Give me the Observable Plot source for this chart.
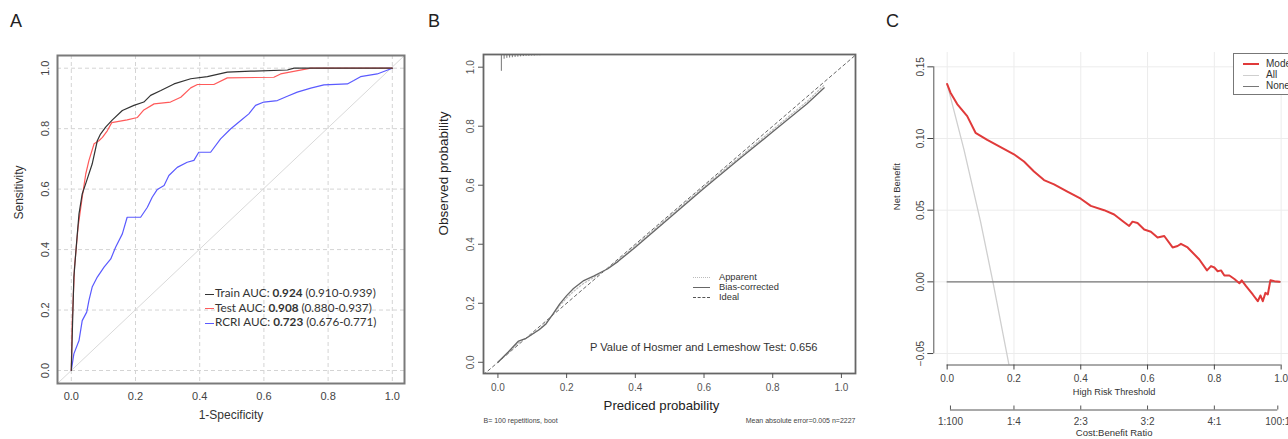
<!DOCTYPE html>
<html><head><meta charset="utf-8">
<script src="https://cdn.jsdelivr.net/npm/d3@7"></script>
<script src="https://cdn.jsdelivr.net/npm/@observablehq/plot@0.6"></script>
<style>
body{margin:0;background:#fff;}
#wrap{position:relative;width:1288px;height:439px;overflow:hidden;background:#fff;font-family:"Liberation Sans",Arial,sans-serif;}
.panel{position:absolute;top:0;}
.plab{position:absolute;font-size:18px;color:#222;line-height:18px;font-family:"Liberation Sans",Arial,sans-serif;}
.sw{display:inline-block;vertical-align:middle;border-top-width:1.5px;}
</style></head><body><div id="wrap"></div>
<script>
// ---------- Panel A: ROC ----------
const rocTicks = [0, 0.2, 0.4, 0.6, 0.8, 1.0];
const trainFpr = [0,0.003,0.008,0.017,0.024,0.034,0.048,0.065,0.081,0.091,0.107,0.128,0.159,0.195,0.226,0.247,0.279,0.320,0.372,0.424,0.486,0.559,0.673,0.694,1];
const trainTpr = [0,0.121,0.309,0.430,0.518,0.584,0.628,0.683,0.760,0.782,0.805,0.829,0.860,0.877,0.888,0.910,0.926,0.948,0.965,0.972,0.987,0.990,0.994,1.0,1];
const testFpr = [0,0.003,0.010,0.021,0.034,0.045,0.055,0.071,0.086,0.097,0.112,0.126,0.174,0.206,0.226,0.258,0.309,0.341,0.372,0.393,0.444,0.486,0.631,0.652,0.746,1];
const testTpr = [0,0.165,0.342,0.474,0.573,0.650,0.695,0.750,0.760,0.771,0.793,0.820,0.829,0.837,0.862,0.882,0.888,0.904,0.935,0.946,0.946,0.968,0.970,0.981,1.0,1];
const rcriFpr = [0,0.008,0.024,0.034,0.048,0.055,0.065,0.081,0.102,0.123,0.138,0.159,0.174,0.216,0.237,0.252,0.268,0.289,0.304,0.330,0.361,0.382,0.397,0.434,0.465,0.496,0.528,0.553,0.574,0.600,0.642,0.673,0.704,0.746,0.787,0.860,0.880,0.901,0.953,1];
const rcriTpr = [0,0.055,0.099,0.165,0.193,0.232,0.276,0.309,0.342,0.369,0.408,0.452,0.507,0.507,0.540,0.573,0.599,0.612,0.645,0.672,0.689,0.695,0.722,0.722,0.766,0.799,0.827,0.849,0.877,0.888,0.893,0.907,0.921,0.934,0.945,0.948,0.959,0.972,0.981,1];
const rocNames = ["Train", "Test", "RCRI"];
const rocAuc = ["0.924", "0.908", "0.723"];
const rocCi = ["(0.910-0.939)", "(0.880-0.937)", "(0.676-0.771)"];
const rocColors = ["#333333", "#ff5a5a", "#5a5aff"];

// ---------- Panel B: calibration ----------
const calTicks = [0, 0.2, 0.4, 0.6, 0.8, 1.0];
const calPred = [0,0.03,0.06,0.08,0.10,0.12,0.14,0.16,0.18,0.20,0.22,0.25,0.28,0.30,0.32,0.35,0.40,0.50,0.60,0.70,0.80,0.90,0.95];
const calBias = [0,0.035,0.072,0.08,0.095,0.11,0.13,0.163,0.198,0.226,0.25,0.277,0.293,0.305,0.317,0.342,0.39,0.49,0.59,0.686,0.781,0.876,0.93];
const calApparent = [0,0.032,0.066,0.08,0.096,0.112,0.134,0.162,0.192,0.218,0.24,0.268,0.288,0.303,0.318,0.345,0.395,0.495,0.595,0.692,0.788,0.884,0.94];
const spikeX = [0.01,0.018,0.026,0.034,0.042,0.05,0.058,0.066,0.074,0.082,0.09,0.098,0.106,0.114,0.122];
const spikeH = [0.057,0.016,0.013,0.012,0.011,0.01,0.009,0.008,0.007,0.006,0.006,0.005,0.005,0.004,0.004];
const calLegend = ["Apparent", "Bias-corrected", "Ideal"];
const hlText = ["P Value of Hosmer and Lemeshow Test: 0.656"];
const hlPos = [0.268, 0.05];

// ---------- Panel C: decision curve ----------
const dcaXTicks = [0, 0.2, 0.4, 0.6, 0.8, 1.0];
const dcaYTicks = [-0.05, 0, 0.05, 0.10, 0.15];
const dcaThr = [0,0.01,0.03,0.06,0.085,0.12,0.16,0.2,0.23,0.26,0.29,0.32,0.36,0.40,0.43,0.47,0.50,0.53,0.545,0.555,0.57,0.59,0.61,0.63,0.65,0.675,0.69,0.70,0.72,0.755,0.778,0.79,0.80,0.81,0.82,0.83,0.845,0.86,0.875,0.882,0.895,0.915,0.93,0.938,0.945,0.953,0.96,0.968,0.98,0.995];
const dcaModel = [0.138,0.132,0.124,0.1156,0.104,0.099,0.094,0.089,0.084,0.077,0.071,0.068,0.063,0.058,0.053,0.050,0.047,0.0416,0.039,0.042,0.041,0.0365,0.035,0.031,0.032,0.024,0.025,0.0265,0.024,0.0156,0.008,0.011,0.010,0.0074,0.008,0.0044,0.0044,0.002,-0.001,0.001,-0.003,-0.0088,-0.0135,-0.0095,-0.0135,-0.0077,-0.0088,0.0012,0.0005,0];
const allThr = [0, 0.05, 0.10, 0.137, 0.186];
const allNB = [0.138, 0.0926, 0.042, 0.0, -0.059];
const noneNB = [0];
const cbTicks = [0.0099, 0.2, 0.4, 0.6, 0.8, 0.99];
const cbLabels = ["1:100", "1:4", "2:3", "3:2", "4:1", "100:1"];
const dcaLegend = ["Model", "All", "None"];
const dcaColors = ["#e03a3a", "#cfcfcf", "#777777"];

const wrap = document.getElementById("wrap");
const f1 = d3.format(".1f"), f2 = d3.format(".2f");
const zip = (xs, ys) => xs.map((x, i) => ({x, y: ys[i]}));
const font = "Liberation Sans, Arial, sans-serif";

function place(svg, left, w) {
  const d = document.createElement("div");
  d.className = "panel"; d.style.left = left + "px"; d.style.width = w + "px";
  d.appendChild(svg); wrap.appendChild(d);
}

// Panel A
const xDomA = [-0.043, 1.038], yDomA = [-0.043, 1.042];
const A = Plot.plot({
  width: 430, height: 439, marginLeft: 57, marginRight: 26, marginTop: 55, marginBottom: 56,
  x: {domain: xDomA}, y: {domain: yDomA},
  style: {fontFamily: font, background: "transparent"},
  marks: [
    Plot.gridX(rocTicks, {stroke: "#d4d4d4", strokeOpacity: 1, strokeDasharray: "4,3"}),
    Plot.gridY(rocTicks, {stroke: "#d4d4d4", strokeOpacity: 1, strokeDasharray: "4,3"}),
    Plot.line(zip([xDomA[0], xDomA[1]], [yDomA[0], yDomA[1]]), {x: "x", y: "y", stroke: "#d9d9d9", strokeWidth: 1}),
    Plot.line(zip(rcriFpr, rcriTpr), {x: "x", y: "y", stroke: rocColors[2], strokeWidth: 1.2}),
    Plot.line(zip(testFpr, testTpr), {x: "x", y: "y", stroke: rocColors[1], strokeWidth: 1.2}),
    Plot.line(zip(trainFpr, trainTpr), {x: "x", y: "y", stroke: rocColors[0], strokeWidth: 1.2}),
    Plot.frame({stroke: "#7a7a7a", strokeWidth: 2}),
    Plot.axisX(rocTicks, {tickSize: 0, tickPadding: 9, tickFormat: f1, fontSize: 11, color: "#444", label: null}),
    Plot.axisY(rocTicks, {tickSize: 0, tickRotate: -90, tickPadding: 9, tickFormat: f1, fontSize: 11, color: "#444", label: null}),
    Plot.text(["1-Specificity"], {text: d => d, frameAnchor: "bottom", dy: 35, fontSize: 12, fill: "#333"}),
    Plot.text(["Sensitivity"], {text: d => d, frameAnchor: "left", dx: -38, rotate: -90, fontSize: 12, fill: "#333"})
  ]
});
place(A, 0, 430);

// Panel B
const xDomB = [-0.042, 1.041], yDomB = [-0.038, 1.043];
const B = Plot.plot({
  width: 440, height: 439, marginLeft: 53, marginRight: 15, marginTop: 54, marginBottom: 66,
  x: {domain: xDomB}, y: {domain: yDomB},
  style: {fontFamily: font, background: "transparent"},
  marks: [
    Plot.line(zip([xDomB[0], xDomB[1]], [xDomB[0], xDomB[1]]), {x: "x", y: "y", stroke: "#666", strokeWidth: 1, strokeDasharray: "3,3", clip: true}),
    Plot.line(zip(calPred, calApparent), {x: "x", y: "y", stroke: "#bdbdbd", strokeWidth: 1.2, strokeDasharray: "1.5,2"}),
    Plot.line(zip(calPred, calBias), {x: "x", y: "y", stroke: "#666", strokeWidth: 1.3}),
    Plot.ruleX(zip(spikeX, spikeH), {x: "x", y1: () => yDomB[1], y2: d => yDomB[1] - d.y, stroke: "#777", strokeWidth: 1}),
    Plot.frame({stroke: "#666", strokeWidth: 1.8}),
    Plot.axisX(calTicks, {tickSize: 5, tickPadding: 5, tickFormat: f1, fontSize: 10, color: "#555", label: null}),
    Plot.axisY(calTicks, {tickSize: 5, tickRotate: -90, tickPadding: 5, tickFormat: f1, fontSize: 10, color: "#555", label: null}),
    Plot.text(["Prediced probability"], {text: d => d, frameAnchor: "bottom", dx: -8, dy: 36, fontSize: 13.2, fill: "#222"}),
    Plot.text([{y: 0.43, t: "Observed probability"}], {y: "y", text: "t", frameAnchor: "left", dx: -40, rotate: -90, fontSize: 13.5, fill: "#222"}),
    Plot.text(hlText, {x: () => hlPos[0], y: () => hlPos[1], text: d => d, textAnchor: "start", fontSize: 11.1, fill: "#333"}),
    Plot.text(["B= 100 repetitions, boot"], {text: d => d, frameAnchor: "bottom-left", textAnchor: "start", dy: 49, fontSize: 7, fill: "#444"}),
    Plot.text(["Mean absolute error=0.005 n=2227"], {text: d => d, frameAnchor: "bottom-right", textAnchor: "end", dy: 49, fontSize: 7, fill: "#444"})
  ]
});
place(B, 430, 440);

// Panel C
const xDomC = [-0.04, 1.04], yDomC = [-0.058, 0.16];
const C = Plot.plot({
  width: 424, height: 439, marginLeft: 63.3, marginRight: 0, marginTop: 52, marginBottom: 74.5,
  x: {domain: xDomC}, y: {domain: yDomC},
  style: {fontFamily: font, background: "transparent"},
  marks: [
    Plot.gridX(dcaXTicks, {stroke: "#ececec", strokeOpacity: 1}),
    Plot.gridY(dcaYTicks, {stroke: "#ececec", strokeOpacity: 1}),
    Plot.line(zip(allThr, allNB), {x: "x", y: "y", stroke: dcaColors[1], strokeWidth: 1.3, clip: true}),
    Plot.ruleY(noneNB, {x1: () => dcaThr[0], x2: () => dcaXTicks[dcaXTicks.length - 1], stroke: dcaColors[2], strokeWidth: 1.3}),
    Plot.line(zip(dcaThr, dcaModel), {x: "x", y: "y", stroke: dcaColors[0], strokeWidth: 2}),
    Plot.ruleX([xDomC[0]], {y1: () => dcaYTicks[0], y2: () => dcaYTicks[dcaYTicks.length - 1], stroke: "#555"}),
    Plot.ruleY([yDomC[0]], {x1: () => dcaXTicks[0], x2: () => dcaXTicks[dcaXTicks.length - 1], stroke: "#555"}),
    Plot.axisX(dcaXTicks, {tickSize: 5, tickPadding: 5, tickFormat: f1, fontSize: 10, color: "#444", label: null}),
    Plot.axisY(dcaYTicks, {tickSize: 6, tickRotate: -90, tickPadding: 4, tickFormat: f2, fontSize: 10, color: "#444", label: null}),
    Plot.text(["High Risk Threshold"], {text: d => d, x: () => 0.5, frameAnchor: "bottom", dy: 30, fontSize: 9.2, fill: "#333"}),
    Plot.text([{y: 0.05, t: "Net Benefit"}], {y: "y", text: "t", frameAnchor: "left", dx: -37, rotate: -90, fontSize: 9.5, fill: "#333"}),
    Plot.ruleY([yDomC[0]], {x1: () => cbTicks[0], x2: () => cbTicks[cbTicks.length - 1], dy: 45, stroke: "#555"}),
    Plot.tickX(cbTicks, {x: d => d, insetTop: 308.5, dy: 45, stroke: "#555"}),
    Plot.text(cbTicks, {x: d => d, text: (d, i) => cbLabels[i], frameAnchor: "bottom", dy: 60, fontSize: 10, fill: "#444"}),
    Plot.text(["Cost:Benefit Ratio"], {text: d => d, x: () => 0.5, frameAnchor: "bottom", dy: 71, fontSize: 9.5, fill: "#333"})
  ]
});
place(C, 870, 424);

// Panel letters
[["A", 10], ["B", 428], ["C", 886]].forEach(([t, l]) => {
  const d = document.createElement("div"); d.className = "plab"; d.textContent = t;
  d.style.left = l + "px"; d.style.top = "12px"; wrap.appendChild(d);
});

// Legend A
const legA = document.createElement("div");
legA.style.cssText = "position:absolute;left:205px;top:285px;font-family:Lato,'Open Sans',sans-serif;font-size:11.7px;line-height:14.5px;color:#333;white-space:nowrap;";
legA.innerHTML = rocNames.map((n, i) =>
  `<div><span class="sw" style="width:9px;border-top:1.5px solid ${rocColors[i]};margin-right:1px"></span>${n} AUC: <b>${rocAuc[i]}</b> ${rocCi[i]}</div>`).join("");
wrap.appendChild(legA);

// Legend B
const bStyles = ["1.5px dotted #bbb", "1.5px solid #666", "1.5px dashed #555"];
const legB = document.createElement("div");
legB.style.cssText = "position:absolute;left:693px;top:272px;font-size:9.3px;line-height:10.2px;color:#333;white-space:nowrap;";
legB.innerHTML = calLegend.map((n, i) =>
  `<div><span class="sw" style="width:17px;border-top:${bStyles[i]};margin-right:9px"></span>${n}</div>`).join("");
wrap.appendChild(legB);

// Legend C
const legC = document.createElement("div");
legC.style.cssText = "position:absolute;left:1233px;top:53px;width:80px;height:42px;border:1px solid #777;background:#fff;box-sizing:border-box;padding:4px 0 0 9px;font-size:10px;line-height:11px;color:#333;white-space:nowrap;";
legC.innerHTML = dcaLegend.map((n, i) =>
  `<div><span class="sw" style="width:16px;border-top:${i === 0 ? 2 : 1.5}px solid ${dcaColors[i]};margin-right:7px"></span>${n}</div>`).join("");
wrap.appendChild(legC);
</script></body></html>
